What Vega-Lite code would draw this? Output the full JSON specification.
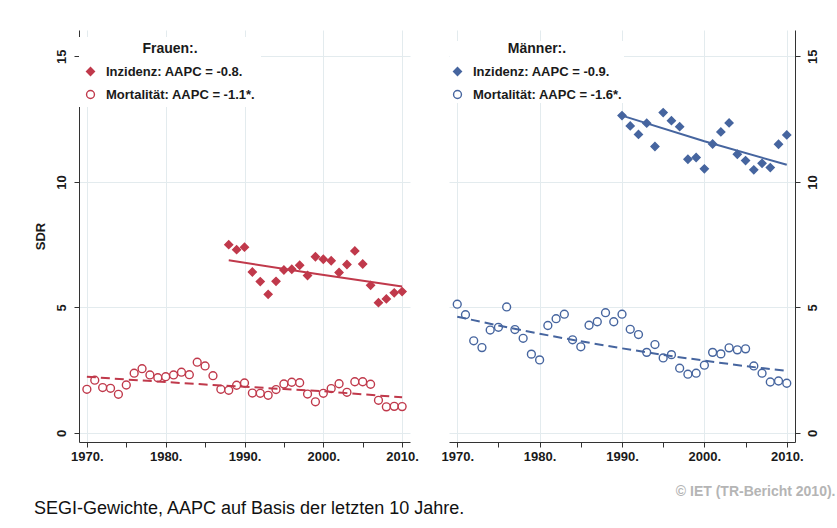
{
  "$schema": "https://vega.github.io/schema/vega-lite/v6.json",
  "background": "white",
  "padding": {"left": 34, "top": 30, "right": 5, "bottom": 5},
  "config": {
    "font": "Liberation Sans",
    "view": {"stroke": null},
    "axis": {
      "labelFont": "Liberation Sans", "labelFontWeight": "bold", "labelFontSize": 13, "labelColor": "#1a1a1a",
      "domainColor": "#333333", "tickColor": "#333333", "gridColor": "#e3ebee",
      "titleFont": "Liberation Sans", "titleFontWeight": "bold", "titleFontSize": 13, "titleColor": "#1a1a1a"
    },
    "legend": {
      "orient": "none", "titleAnchor": "middle", "titleFont": "Liberation Sans", "titleFontSize": 14, "titleFontWeight": "bold", "titleColor": "#1a1a1a",
      "labelFont": "Liberation Sans", "labelFontSize": 13, "labelFontWeight": "bold", "labelColor": "#1a1a1a",
      "symbolSize": 62, "symbolStrokeWidth": 1.4, "fillColor": "white", "rowPadding": 8, "titlePadding": 9, "labelOffset": 9, "labelLimit": 300
    }
  },
  "datasets": {
    "pts": [
      {"sex":"F","serie":"Inzidenz: AAPC = -0.8.","year":1988,"sdr":7.50},
      {"sex":"F","serie":"Inzidenz: AAPC = -0.8.","year":1989,"sdr":7.30},
      {"sex":"F","serie":"Inzidenz: AAPC = -0.8.","year":1990,"sdr":7.40},
      {"sex":"F","serie":"Inzidenz: AAPC = -0.8.","year":1991,"sdr":6.41},
      {"sex":"F","serie":"Inzidenz: AAPC = -0.8.","year":1992,"sdr":6.03},
      {"sex":"F","serie":"Inzidenz: AAPC = -0.8.","year":1993,"sdr":5.52},
      {"sex":"F","serie":"Inzidenz: AAPC = -0.8.","year":1994,"sdr":6.04},
      {"sex":"F","serie":"Inzidenz: AAPC = -0.8.","year":1995,"sdr":6.49},
      {"sex":"F","serie":"Inzidenz: AAPC = -0.8.","year":1996,"sdr":6.52},
      {"sex":"F","serie":"Inzidenz: AAPC = -0.8.","year":1997,"sdr":6.68},
      {"sex":"F","serie":"Inzidenz: AAPC = -0.8.","year":1998,"sdr":6.27},
      {"sex":"F","serie":"Inzidenz: AAPC = -0.8.","year":1999,"sdr":7.02},
      {"sex":"F","serie":"Inzidenz: AAPC = -0.8.","year":2000,"sdr":6.92},
      {"sex":"F","serie":"Inzidenz: AAPC = -0.8.","year":2001,"sdr":6.86},
      {"sex":"F","serie":"Inzidenz: AAPC = -0.8.","year":2002,"sdr":6.39},
      {"sex":"F","serie":"Inzidenz: AAPC = -0.8.","year":2003,"sdr":6.71},
      {"sex":"F","serie":"Inzidenz: AAPC = -0.8.","year":2004,"sdr":7.25},
      {"sex":"F","serie":"Inzidenz: AAPC = -0.8.","year":2005,"sdr":6.73},
      {"sex":"F","serie":"Inzidenz: AAPC = -0.8.","year":2006,"sdr":5.88},
      {"sex":"F","serie":"Inzidenz: AAPC = -0.8.","year":2007,"sdr":5.19},
      {"sex":"F","serie":"Inzidenz: AAPC = -0.8.","year":2008,"sdr":5.34},
      {"sex":"F","serie":"Inzidenz: AAPC = -0.8.","year":2009,"sdr":5.58},
      {"sex":"F","serie":"Inzidenz: AAPC = -0.8.","year":2010,"sdr":5.63},
      {"sex":"F","serie":"Mortalität: AAPC = -1.1*.","year":1970,"sdr":1.74},
      {"sex":"F","serie":"Mortalität: AAPC = -1.1*.","year":1971,"sdr":2.10},
      {"sex":"F","serie":"Mortalität: AAPC = -1.1*.","year":1972,"sdr":1.81},
      {"sex":"F","serie":"Mortalität: AAPC = -1.1*.","year":1973,"sdr":1.78},
      {"sex":"F","serie":"Mortalität: AAPC = -1.1*.","year":1974,"sdr":1.54},
      {"sex":"F","serie":"Mortalität: AAPC = -1.1*.","year":1975,"sdr":1.91},
      {"sex":"F","serie":"Mortalität: AAPC = -1.1*.","year":1976,"sdr":2.38},
      {"sex":"F","serie":"Mortalität: AAPC = -1.1*.","year":1977,"sdr":2.56},
      {"sex":"F","serie":"Mortalität: AAPC = -1.1*.","year":1978,"sdr":2.31},
      {"sex":"F","serie":"Mortalität: AAPC = -1.1*.","year":1979,"sdr":2.20},
      {"sex":"F","serie":"Mortalität: AAPC = -1.1*.","year":1980,"sdr":2.24},
      {"sex":"F","serie":"Mortalität: AAPC = -1.1*.","year":1981,"sdr":2.31},
      {"sex":"F","serie":"Mortalität: AAPC = -1.1*.","year":1982,"sdr":2.42},
      {"sex":"F","serie":"Mortalität: AAPC = -1.1*.","year":1983,"sdr":2.32},
      {"sex":"F","serie":"Mortalität: AAPC = -1.1*.","year":1984,"sdr":2.82},
      {"sex":"F","serie":"Mortalität: AAPC = -1.1*.","year":1985,"sdr":2.67},
      {"sex":"F","serie":"Mortalität: AAPC = -1.1*.","year":1986,"sdr":2.28},
      {"sex":"F","serie":"Mortalität: AAPC = -1.1*.","year":1987,"sdr":1.74},
      {"sex":"F","serie":"Mortalität: AAPC = -1.1*.","year":1988,"sdr":1.70},
      {"sex":"F","serie":"Mortalität: AAPC = -1.1*.","year":1989,"sdr":1.90},
      {"sex":"F","serie":"Mortalität: AAPC = -1.1*.","year":1990,"sdr":1.99},
      {"sex":"F","serie":"Mortalität: AAPC = -1.1*.","year":1991,"sdr":1.59},
      {"sex":"F","serie":"Mortalität: AAPC = -1.1*.","year":1992,"sdr":1.58},
      {"sex":"F","serie":"Mortalität: AAPC = -1.1*.","year":1993,"sdr":1.50},
      {"sex":"F","serie":"Mortalität: AAPC = -1.1*.","year":1994,"sdr":1.73},
      {"sex":"F","serie":"Mortalität: AAPC = -1.1*.","year":1995,"sdr":1.95},
      {"sex":"F","serie":"Mortalität: AAPC = -1.1*.","year":1996,"sdr":2.02},
      {"sex":"F","serie":"Mortalität: AAPC = -1.1*.","year":1997,"sdr":2.00},
      {"sex":"F","serie":"Mortalität: AAPC = -1.1*.","year":1998,"sdr":1.55},
      {"sex":"F","serie":"Mortalität: AAPC = -1.1*.","year":1999,"sdr":1.24},
      {"sex":"F","serie":"Mortalität: AAPC = -1.1*.","year":2000,"sdr":1.58},
      {"sex":"F","serie":"Mortalität: AAPC = -1.1*.","year":2001,"sdr":1.77},
      {"sex":"F","serie":"Mortalität: AAPC = -1.1*.","year":2002,"sdr":1.96},
      {"sex":"F","serie":"Mortalität: AAPC = -1.1*.","year":2003,"sdr":1.62},
      {"sex":"F","serie":"Mortalität: AAPC = -1.1*.","year":2004,"sdr":2.04},
      {"sex":"F","serie":"Mortalität: AAPC = -1.1*.","year":2005,"sdr":2.04},
      {"sex":"F","serie":"Mortalität: AAPC = -1.1*.","year":2006,"sdr":1.94},
      {"sex":"F","serie":"Mortalität: AAPC = -1.1*.","year":2007,"sdr":1.30},
      {"sex":"F","serie":"Mortalität: AAPC = -1.1*.","year":2008,"sdr":1.04},
      {"sex":"F","serie":"Mortalität: AAPC = -1.1*.","year":2009,"sdr":1.06},
      {"sex":"F","serie":"Mortalität: AAPC = -1.1*.","year":2010,"sdr":1.05},
      {"sex":"M","serie":"Inzidenz: AAPC = -0.9.","year":1990,"sdr":12.64},
      {"sex":"M","serie":"Inzidenz: AAPC = -0.9.","year":1991,"sdr":12.23},
      {"sex":"M","serie":"Inzidenz: AAPC = -0.9.","year":1992,"sdr":11.89},
      {"sex":"M","serie":"Inzidenz: AAPC = -0.9.","year":1993,"sdr":12.34},
      {"sex":"M","serie":"Inzidenz: AAPC = -0.9.","year":1994,"sdr":11.41},
      {"sex":"M","serie":"Inzidenz: AAPC = -0.9.","year":1995,"sdr":12.76},
      {"sex":"M","serie":"Inzidenz: AAPC = -0.9.","year":1996,"sdr":12.44},
      {"sex":"M","serie":"Inzidenz: AAPC = -0.9.","year":1997,"sdr":12.20},
      {"sex":"M","serie":"Inzidenz: AAPC = -0.9.","year":1998,"sdr":10.90},
      {"sex":"M","serie":"Inzidenz: AAPC = -0.9.","year":1999,"sdr":10.97},
      {"sex":"M","serie":"Inzidenz: AAPC = -0.9.","year":2000,"sdr":10.52},
      {"sex":"M","serie":"Inzidenz: AAPC = -0.9.","year":2001,"sdr":11.51},
      {"sex":"M","serie":"Inzidenz: AAPC = -0.9.","year":2002,"sdr":11.99},
      {"sex":"M","serie":"Inzidenz: AAPC = -0.9.","year":2003,"sdr":12.35},
      {"sex":"M","serie":"Inzidenz: AAPC = -0.9.","year":2004,"sdr":11.10},
      {"sex":"M","serie":"Inzidenz: AAPC = -0.9.","year":2005,"sdr":10.85},
      {"sex":"M","serie":"Inzidenz: AAPC = -0.9.","year":2006,"sdr":10.48},
      {"sex":"M","serie":"Inzidenz: AAPC = -0.9.","year":2007,"sdr":10.74},
      {"sex":"M","serie":"Inzidenz: AAPC = -0.9.","year":2008,"sdr":10.57},
      {"sex":"M","serie":"Inzidenz: AAPC = -0.9.","year":2009,"sdr":11.50},
      {"sex":"M","serie":"Inzidenz: AAPC = -0.9.","year":2010,"sdr":11.87},
      {"sex":"M","serie":"Mortalität: AAPC = -1.6*.","year":1970,"sdr":5.13},
      {"sex":"M","serie":"Mortalität: AAPC = -1.6*.","year":1971,"sdr":4.71},
      {"sex":"M","serie":"Mortalität: AAPC = -1.6*.","year":1972,"sdr":3.67},
      {"sex":"M","serie":"Mortalität: AAPC = -1.6*.","year":1973,"sdr":3.40},
      {"sex":"M","serie":"Mortalität: AAPC = -1.6*.","year":1974,"sdr":4.10},
      {"sex":"M","serie":"Mortalität: AAPC = -1.6*.","year":1975,"sdr":4.21},
      {"sex":"M","serie":"Mortalität: AAPC = -1.6*.","year":1976,"sdr":5.02},
      {"sex":"M","serie":"Mortalität: AAPC = -1.6*.","year":1977,"sdr":4.12},
      {"sex":"M","serie":"Mortalität: AAPC = -1.6*.","year":1978,"sdr":3.77},
      {"sex":"M","serie":"Mortalität: AAPC = -1.6*.","year":1979,"sdr":3.14},
      {"sex":"M","serie":"Mortalität: AAPC = -1.6*.","year":1980,"sdr":2.91},
      {"sex":"M","serie":"Mortalität: AAPC = -1.6*.","year":1981,"sdr":4.28},
      {"sex":"M","serie":"Mortalität: AAPC = -1.6*.","year":1982,"sdr":4.55},
      {"sex":"M","serie":"Mortalität: AAPC = -1.6*.","year":1983,"sdr":4.73},
      {"sex":"M","serie":"Mortalität: AAPC = -1.6*.","year":1984,"sdr":3.71},
      {"sex":"M","serie":"Mortalität: AAPC = -1.6*.","year":1985,"sdr":3.43},
      {"sex":"M","serie":"Mortalität: AAPC = -1.6*.","year":1986,"sdr":4.29},
      {"sex":"M","serie":"Mortalität: AAPC = -1.6*.","year":1987,"sdr":4.43},
      {"sex":"M","serie":"Mortalität: AAPC = -1.6*.","year":1988,"sdr":4.79},
      {"sex":"M","serie":"Mortalität: AAPC = -1.6*.","year":1989,"sdr":4.43},
      {"sex":"M","serie":"Mortalität: AAPC = -1.6*.","year":1990,"sdr":4.73},
      {"sex":"M","serie":"Mortalität: AAPC = -1.6*.","year":1991,"sdr":4.13},
      {"sex":"M","serie":"Mortalität: AAPC = -1.6*.","year":1992,"sdr":3.92},
      {"sex":"M","serie":"Mortalität: AAPC = -1.6*.","year":1993,"sdr":3.21},
      {"sex":"M","serie":"Mortalität: AAPC = -1.6*.","year":1994,"sdr":3.52},
      {"sex":"M","serie":"Mortalität: AAPC = -1.6*.","year":1995,"sdr":2.99},
      {"sex":"M","serie":"Mortalität: AAPC = -1.6*.","year":1996,"sdr":3.12},
      {"sex":"M","serie":"Mortalität: AAPC = -1.6*.","year":1997,"sdr":2.58},
      {"sex":"M","serie":"Mortalität: AAPC = -1.6*.","year":1998,"sdr":2.34},
      {"sex":"M","serie":"Mortalität: AAPC = -1.6*.","year":1999,"sdr":2.38},
      {"sex":"M","serie":"Mortalität: AAPC = -1.6*.","year":2000,"sdr":2.70},
      {"sex":"M","serie":"Mortalität: AAPC = -1.6*.","year":2001,"sdr":3.21},
      {"sex":"M","serie":"Mortalität: AAPC = -1.6*.","year":2002,"sdr":3.15},
      {"sex":"M","serie":"Mortalität: AAPC = -1.6*.","year":2003,"sdr":3.39},
      {"sex":"M","serie":"Mortalität: AAPC = -1.6*.","year":2004,"sdr":3.31},
      {"sex":"M","serie":"Mortalität: AAPC = -1.6*.","year":2005,"sdr":3.35},
      {"sex":"M","serie":"Mortalität: AAPC = -1.6*.","year":2006,"sdr":2.67},
      {"sex":"M","serie":"Mortalität: AAPC = -1.6*.","year":2007,"sdr":2.38},
      {"sex":"M","serie":"Mortalität: AAPC = -1.6*.","year":2008,"sdr":2.03},
      {"sex":"M","serie":"Mortalität: AAPC = -1.6*.","year":2009,"sdr":2.07},
      {"sex":"M","serie":"Mortalität: AAPC = -1.6*.","year":2010,"sdr":1.98}
    ],
    "trend": [
      {"sex":"F","kind":"inz","year":1988,"sdr":6.88},
      {"sex":"F","kind":"inz","year":1999,"sdr":6.34},
      {"sex":"F","kind":"inz","year":2010,"sdr":5.83},
      {"sex":"F","kind":"mort","year":1970,"sdr":2.24},
      {"sex":"F","kind":"mort","year":1975,"sdr":2.13},
      {"sex":"F","kind":"mort","year":1980,"sdr":2.03},
      {"sex":"F","kind":"mort","year":1985,"sdr":1.93},
      {"sex":"F","kind":"mort","year":1990,"sdr":1.84},
      {"sex":"F","kind":"mort","year":1995,"sdr":1.75},
      {"sex":"F","kind":"mort","year":2000,"sdr":1.66},
      {"sex":"F","kind":"mort","year":2005,"sdr":1.54},
      {"sex":"F","kind":"mort","year":2010,"sdr":1.42},
      {"sex":"M","kind":"inz","year":1990,"sdr":12.64},
      {"sex":"M","kind":"inz","year":2000,"sdr":11.62},
      {"sex":"M","kind":"inz","year":2010,"sdr":10.68},
      {"sex":"M","kind":"mort","year":1970,"sdr":4.63},
      {"sex":"M","kind":"mort","year":1975,"sdr":4.28},
      {"sex":"M","kind":"mort","year":1980,"sdr":3.95},
      {"sex":"M","kind":"mort","year":1985,"sdr":3.65},
      {"sex":"M","kind":"mort","year":1990,"sdr":3.37},
      {"sex":"M","kind":"mort","year":1995,"sdr":3.11},
      {"sex":"M","kind":"mort","year":2000,"sdr":2.88},
      {"sex":"M","kind":"mort","year":2005,"sdr":2.66},
      {"sex":"M","kind":"mort","year":2010,"sdr":2.47}
    ]
  },
  "title": {"text": "SEGI-Gewichte, AAPC auf Basis der letzten 10 Jahre.", "orient": "bottom", "anchor": "start", "font": "Liberation Sans", "fontSize": 18, "fontWeight": "normal", "color": "#111111", "offset": 2},
  "spacing": 39,
  "bounds": "flush",
  "resolve": {
    "scale": {"fill": "independent", "stroke": "independent", "shape": "independent", "y": "independent", "x": "independent"},
    "legend": {"fill": "independent", "stroke": "independent", "shape": "independent"}
  },
  "hconcat": [
    {
      "width": 331, "height": 412,
      "layer": [
        {
          "data": {"name": "pts"},
          "transform": [{"filter": "datum.sex === 'F'"}],
          "mark": {"type": "point", "filled": true, "size": 62, "strokeWidth": 1.4, "opacity": 1},
          "encoding": {
            "x": {"field": "year", "type": "quantitative", "scale": {"domain": [1969, 2011], "nice": false, "zero": false},
              "axis": {"values": [1970,1975,1980,1985,1990,1995,2000,2005,2010], "labelExpr": "datum.value % 10 === 0 ? datum.value + '.' : ''", "labelOverlap": false, "labelFlush": false, "gridOpacity": {"condition": {"test": "datum.value % 10 === 0", "value": 1}, "value": 0}, "title": null, "tickSize": 5, "labelPadding": 3}},
            "y": {"field": "sdr", "type": "quantitative", "scale": {"domain": [-0.36, 16.05], "nice": false, "zero": false},
              "axis": {"values": [0,5,10,15], "labelAngle": 270, "title": "SDR", "tickSize": 5, "labelPadding": 6, "titlePadding": 8, "labelFlush": false}},
            "shape": {"field": "serie", "type": "nominal", "scale": {"domain": ["Inzidenz: AAPC = -0.8.", "Mortalität: AAPC = -1.1*."], "range": ["diamond", "circle"]}, "legend": {"title": "Frauen:.", "legendX": 0, "legendY": 7, "padding": 5}},
            "fill": {"field": "serie", "type": "nominal", "scale": {"domain": ["Inzidenz: AAPC = -0.8.", "Mortalität: AAPC = -1.1*."], "range": ["#c0394b", "#ffffff"]}, "legend": {"title": "Frauen:.", "legendX": 0, "legendY": 7, "padding": 5}},
            "stroke": {"field": "serie", "type": "nominal", "scale": {"domain": ["Inzidenz: AAPC = -0.8.", "Mortalität: AAPC = -1.1*."], "range": ["#c0394b", "#c0394b"]}, "legend": {"title": "Frauen:.", "legendX": 0, "legendY": 7, "padding": 5}}
          }
        },
        {
          "data": {"name": "trend"},
          "transform": [{"filter": "datum.sex === 'F' && datum.kind === 'inz'"}],
          "mark": {"type": "line", "color": "#c0394b", "strokeWidth": 2},
          "encoding": {"x": {"field": "year", "type": "quantitative"}, "y": {"field": "sdr", "type": "quantitative"}}
        },
        {
          "data": {"name": "trend"},
          "transform": [{"filter": "datum.sex === 'F' && datum.kind === 'mort'"}],
          "mark": {"type": "line", "color": "#c0394b", "strokeWidth": 2, "strokeDash": [9, 5]},
          "encoding": {"x": {"field": "year", "type": "quantitative"}, "y": {"field": "sdr", "type": "quantitative"}}
        },
        {
          "mark": {"type": "rule", "color": "#c0394b", "strokeWidth": 1.2, "strokeDash": [1.5, 2]},
          "encoding": {"x": {"datum": 2001, "type": "quantitative"}}
        },
        {
          "mark": {"type": "rule", "color": "#d2d2d2", "strokeWidth": 1},
          "encoding": {"x": {"datum": 2011, "type": "quantitative"}}
        }
      ]
    },
    {
      "width": 346, "height": 412,
      "layer": [
        {
          "data": {"name": "pts"},
          "transform": [{"filter": "datum.sex === 'M'"}],
          "mark": {"type": "point", "filled": true, "size": 62, "strokeWidth": 1.4, "opacity": 1},
          "encoding": {
            "x": {"field": "year", "type": "quantitative", "scale": {"domain": [1969, 2011], "nice": false, "zero": false},
              "axis": {"values": [1970,1975,1980,1985,1990,1995,2000,2005,2010], "labelExpr": "datum.value % 10 === 0 ? datum.value + '.' : ''", "labelOverlap": false, "labelFlush": false, "gridOpacity": {"condition": {"test": "datum.value % 10 === 0", "value": 1}, "value": 0}, "tickSize": 5, "labelPadding": 3,
                "title": "© IET (TR-Bericht 2010).", "titleColor": "#b5b5b5", "titleFontSize": 14, "titleFontWeight": "bold", "titleAlign": "right", "titleX": 386, "titlePadding": 21}},
            "y": {"field": "sdr", "type": "quantitative", "scale": {"domain": [-0.36, 16.05], "nice": false, "zero": false},
              "axis": {"orient": "right", "values": [0,5,10,15], "labelAngle": 270, "title": null, "tickSize": 5, "labelPadding": 6, "labelFlush": false}},
            "shape": {"field": "serie", "type": "nominal", "scale": {"domain": ["Inzidenz: AAPC = -0.9.", "Mortalität: AAPC = -1.6*."], "range": ["diamond", "circle"]}, "legend": {"title": "Männer:.", "legendX": 1, "legendY": 11, "padding": 1}},
            "fill": {"field": "serie", "type": "nominal", "scale": {"domain": ["Inzidenz: AAPC = -0.9.", "Mortalität: AAPC = -1.6*."], "range": ["#46659f", "#ffffff"]}, "legend": {"title": "Männer:.", "legendX": 1, "legendY": 11, "padding": 1}},
            "stroke": {"field": "serie", "type": "nominal", "scale": {"domain": ["Inzidenz: AAPC = -0.9.", "Mortalität: AAPC = -1.6*."], "range": ["#46659f", "#46659f"]}, "legend": {"title": "Männer:.", "legendX": 1, "legendY": 11, "padding": 1}}
          }
        },
        {
          "data": {"name": "trend"},
          "transform": [{"filter": "datum.sex === 'M' && datum.kind === 'inz'"}],
          "mark": {"type": "line", "color": "#46659f", "strokeWidth": 2},
          "encoding": {"x": {"field": "year", "type": "quantitative"}, "y": {"field": "sdr", "type": "quantitative"}}
        },
        {
          "data": {"name": "trend"},
          "transform": [{"filter": "datum.sex === 'M' && datum.kind === 'mort'"}],
          "mark": {"type": "line", "color": "#46659f", "strokeWidth": 2, "strokeDash": [9, 5]},
          "encoding": {"x": {"field": "year", "type": "quantitative"}, "y": {"field": "sdr", "type": "quantitative"}}
        },
        {
          "mark": {"type": "rule", "color": "#46659f", "strokeWidth": 1.2, "strokeDash": [1.5, 2]},
          "encoding": {"x": {"datum": 2001, "type": "quantitative"}}
        },
        {
          "mark": {"type": "rule", "color": "#d2d2d2", "strokeWidth": 1},
          "encoding": {"x": {"datum": 1969, "type": "quantitative"}}
        }
      ]
    }
  ]
}
